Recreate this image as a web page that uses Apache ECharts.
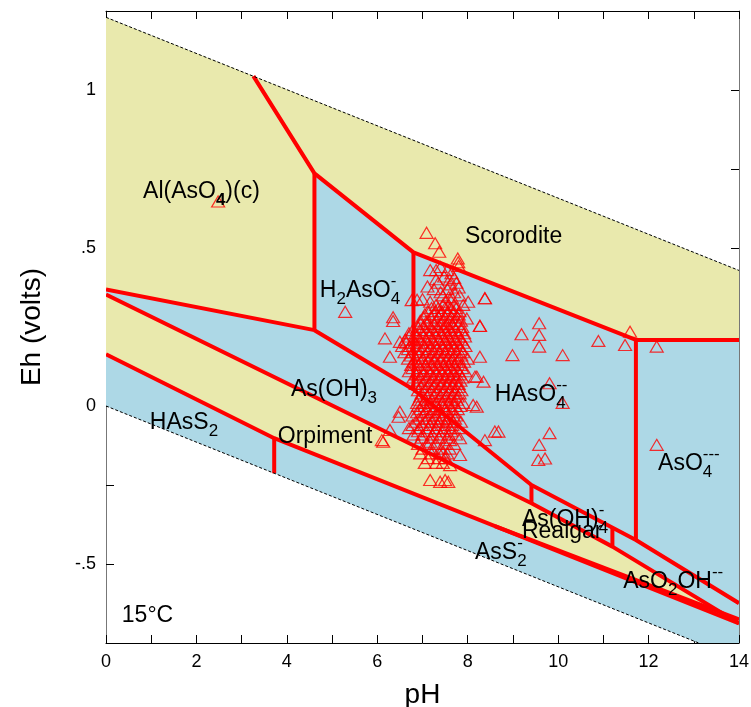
<!DOCTYPE html>
<html><head><meta charset="utf-8">
<script src="https://cdn.jsdelivr.net/npm/echarts@6/dist/echarts.min.js"></script>
<style>html,body{margin:0;padding:0;background:#fff}#c{width:751px;height:707px}</style>
</head><body><div id="c"></div>
<script>
// ---------- axis ticks ----------
const xLabelTicks = [0, 2, 4, 6, 8, 10, 12, 14];
const yLabelTicks = { '1': '1', '0.5': '.5', '0': '0', '-0.5': '-.5' };

// ---------- water stability limits (pH, Eh) ----------
const waterUpper = [[0, 1.23], [14, 0.429]];
const waterLower = [[0, 0.0], [13.11, -0.75]];

// ---------- stability fields (pH, Eh vertices) ----------
const fieldWater     = [[0, 1.23], [14, 0.429], [14, -0.75], [13.11, -0.75], [0, 0.0]];
const fieldAlAsO4    = [[0, 1.23], [3.26, 1.044], [4.61, 0.736], [4.61, 0.24], [0, 0.369]];
const fieldScorodite = [[3.26, 1.044], [14, 0.429], [14, 0.209], [11.72, 0.209], [6.80, 0.486], [4.61, 0.736]];
const fieldSulfides  = [[0, 0.353], [9.41, -0.308], [11.2, -0.445], [14, -0.688], [3.72, -0.102], [0, 0.164]];

// ---------- field boundaries (red) ----------
const boundaries = [
  [[3.26, 1.044], [4.61, 0.736], [6.80, 0.486], [11.72, 0.209], [14, 0.209]],
  [[4.61, 0.736], [4.61, 0.24]],
  [[0, 0.369], [4.61, 0.24], [6.80, 0.052], [9.41, -0.25], [11.72, -0.424], [14, -0.624]],
  [[6.80, 0.486], [6.80, 0.052]],
  [[11.72, 0.209], [11.72, -0.424]],
  [[0, 0.353], [9.41, -0.308], [11.2, -0.445], [14, -0.688]],
  [[9.41, -0.25], [9.41, -0.308]],
  [[11.2, -0.384], [11.2, -0.445]],
  [[0, 0.164], [3.72, -0.102], [14, -0.688]],
  [[3.72, -0.102], [3.72, -0.213]],
  [[8.6, -0.38], [14, -0.675]]
];

// ---------- water samples (pH, Eh) ----------
const samplesSpread = [
  [2.48,0.647],[5.29,0.298],
  [7.09,0.548],[7.28,0.515],[7.37,0.488],[7.78,0.467],[7.79,0.455],[7.80,0.443],[7.17,0.430],[7.30,0.430],
  [7.30,0.401],[7.11,0.378],[7.64,0.42],[7.70,0.405],[7.75,0.39],[7.62,0.385],[7.55,0.37],[7.70,0.36],
  [7.82,0.35],[6.76,0.335],[6.88,0.336],[7.00,0.338],[7.17,0.33],[8.01,0.330],[8.38,0.341],[7.45,0.35],
  [7.58,0.345],[7.66,0.34],[7.5,0.33],[7.9,0.32],[6.35,0.281],[6.35,0.269],[7.98,0.277],[8.27,0.254],
  [6.17,0.214],[6.50,0.203],[6.28,0.156],[8.27,0.156],[8.20,0.093],[8.35,0.077],[8.16,0.093],
  [8.12,0.003],[8.20,-0.002],[6.50,-0.018],[6.47,-0.034],[6.28,-0.076],[6.13,-0.113],[6.10,-0.108],
  [7.17,-0.113],[7.61,-0.108],[7.83,-0.102],[7.83,-0.155],[7.46,-0.145],[7.61,-0.187],[8.38,-0.108],
  [8.60,-0.081],[8.68,-0.081],[7.17,-0.234],[7.39,-0.240],[7.57,-0.240],[7.50,-0.234],
  [8.38,0.341],[8.27,0.253],[9.58,0.262],[9.19,0.227],[9.58,0.225],[9.58,0.188],[8.99,0.161],[10.10,0.161],
  [10.89,0.206],[11.59,0.235],[11.48,0.193],[12.18,0.188],[9.81,0.072],[10.10,0.010],[9.81,-0.086],
  [9.58,-0.123],[9.71,-0.166],[9.56,-0.171],[12.18,-0.123],[7.4,0.44],[7.55,0.43],[7.48,0.41],
  [7.35,0.39],[7.6,0.40],[7.25,0.37],[7.4,0.36],[7.8,0.375]
];
const samplesCore = [
  [7.2,0.31],[7.35,0.31],[7.5,0.31],[7.62,0.31],[7.75,0.31],
  [7.05,0.29],[7.25,0.29],[7.4,0.29],[7.55,0.29],[7.68,0.29],[7.8,0.29],
  [6.95,0.27],[7.1,0.27],[7.3,0.27],[7.45,0.27],[7.6,0.27],[7.72,0.27],[7.85,0.27],
  [6.9,0.25],[7.02,0.25],[7.18,0.25],[7.33,0.25],[7.48,0.25],[7.58,0.25],[7.7,0.25],[7.88,0.25],
  [6.7,0.23],[6.85,0.23],[7.0,0.23],[7.15,0.23],[7.28,0.23],[7.42,0.23],[7.53,0.23],[7.65,0.23],[7.78,0.23],[7.92,0.23],
  [6.62,0.21],[6.8,0.21],[6.95,0.21],[7.08,0.21],[7.22,0.21],[7.36,0.21],[7.5,0.21],[7.6,0.21],[7.73,0.21],[7.86,0.21],
  [6.55,0.19],[6.72,0.19],[6.9,0.19],[7.05,0.19],[7.18,0.19],[7.3,0.19],[7.44,0.19],[7.57,0.19],[7.68,0.19],[7.82,0.19],[7.95,0.19],
  [6.6,0.17],[6.78,0.17],[6.93,0.17],[7.1,0.17],[7.25,0.17],[7.38,0.17],[7.5,0.17],[7.63,0.17],[7.76,0.17],[7.9,0.17],
  [6.68,0.15],[6.85,0.15],[7.0,0.15],[7.14,0.15],[7.27,0.15],[7.41,0.15],[7.55,0.15],[7.66,0.15],[7.8,0.15],[8.0,0.15],
  [6.75,0.13],[6.9,0.13],[7.06,0.13],[7.2,0.13],[7.33,0.13],[7.46,0.13],[7.58,0.13],[7.7,0.13],[7.85,0.13],
  [6.7,0.11],[6.88,0.11],[7.02,0.11],[7.16,0.11],[7.3,0.11],[7.43,0.11],[7.56,0.11],[7.68,0.11],[7.8,0.11],[7.95,0.11],
  [6.8,0.09],[6.95,0.09],[7.1,0.09],[7.24,0.09],[7.37,0.09],[7.5,0.09],[7.62,0.09],[7.75,0.09],[7.88,0.09],
  [6.85,0.07],[7.0,0.07],[7.14,0.07],[7.28,0.07],[7.42,0.07],[7.55,0.07],[7.68,0.07],[7.8,0.07],
  [6.9,0.05],[7.05,0.05],[7.2,0.05],[7.33,0.05],[7.47,0.05],[7.6,0.05],[7.72,0.05],[7.86,0.05],
  [6.95,0.03],[7.1,0.03],[7.25,0.03],[7.38,0.03],[7.52,0.03],[7.65,0.03],[7.78,0.03],
  [6.88,0.01],[7.02,0.01],[7.16,0.01],[7.3,0.01],[7.44,0.01],[7.58,0.01],[7.7,0.01],[7.9,0.01],
  [6.95,-0.01],[7.1,-0.01],[7.24,-0.01],[7.36,-0.01],[7.5,-0.01],[7.64,-0.01],[7.78,-0.01],
  [6.78,-0.03],[7.0,-0.03],[7.15,-0.03],[7.3,-0.03],[7.45,-0.03],[7.6,-0.03],[7.75,-0.03],
  [6.85,-0.05],[7.05,-0.05],[7.2,-0.05],[7.36,-0.05],[7.52,-0.05],[7.68,-0.05],[7.85,-0.05],
  [6.7,-0.07],[6.92,-0.07],[7.12,-0.07],[7.3,-0.07],[7.48,-0.07],[7.62,-0.07],[7.8,-0.07],
  [6.8,-0.09],[7.0,-0.09],[7.22,-0.09],[7.4,-0.09],[7.58,-0.09],[7.74,-0.09],
  [6.9,-0.12],[7.1,-0.12],[7.3,-0.12],[7.5,-0.12],[7.7,-0.12],
  [6.95,-0.15],[7.2,-0.15],[7.38,-0.15],[7.55,-0.15],
  [7.05,-0.18],[7.3,-0.18],[7.45,-0.18]
];
const samplesCore2 = [
  [7.3,0.32],[7.45,0.32],[7.58,0.32],[7.7,0.32],
  [7.12,0.30],[7.28,0.30],[7.42,0.30],[7.56,0.30],[7.69,0.30],[7.82,0.30],
  [7.02,0.28],[7.18,0.28],[7.36,0.28],[7.5,0.28],[7.64,0.28],[7.78,0.28],
  [6.96,0.26],[7.1,0.26],[7.25,0.26],[7.4,0.26],[7.53,0.26],[7.66,0.26],[7.8,0.26],
  [6.78,0.24],[6.94,0.24],[7.08,0.24],[7.22,0.24],[7.36,0.24],[7.48,0.24],[7.62,0.24],[7.74,0.24],[7.86,0.24],
  [6.7,0.22],[6.88,0.22],[7.02,0.22],[7.15,0.22],[7.3,0.22],[7.43,0.22],[7.56,0.22],[7.68,0.22],[7.8,0.22],[7.94,0.22],
  [6.64,0.20],[6.82,0.20],[6.98,0.20],[7.12,0.20],[7.26,0.20],[7.4,0.20],[7.52,0.20],[7.65,0.20],[7.77,0.20],[7.9,0.20],
  [6.68,0.18],[6.86,0.18],[7.0,0.18],[7.16,0.18],[7.32,0.18],[7.45,0.18],[7.58,0.18],[7.7,0.18],[7.84,0.18],
  [6.74,0.16],[6.92,0.16],[7.06,0.16],[7.2,0.16],[7.34,0.16],[7.47,0.16],[7.6,0.16],[7.72,0.16],[7.86,0.16],
  [6.8,0.14],[6.96,0.14],[7.12,0.14],[7.26,0.14],[7.4,0.14],[7.52,0.14],[7.64,0.14],[7.76,0.14],[7.92,0.14],
  [6.78,0.12],[6.95,0.12],[7.1,0.12],[7.24,0.12],[7.37,0.12],[7.5,0.12],[7.62,0.12],[7.75,0.12],[7.88,0.12],
  [6.86,0.10],[7.02,0.10],[7.17,0.10],[7.31,0.10],[7.44,0.10],[7.57,0.10],[7.7,0.10],[7.83,0.10],
  [6.9,0.08],[7.06,0.08],[7.2,0.08],[7.34,0.08],[7.47,0.08],[7.6,0.08],[7.73,0.08],[7.84,0.08],
  [6.96,0.06],[7.1,0.06],[7.25,0.06],[7.4,0.06],[7.54,0.06],[7.66,0.06],[7.8,0.06],
  [6.98,0.04],[7.14,0.04],[7.3,0.04],[7.44,0.04],[7.57,0.04],[7.7,0.04],[7.82,0.04],
  [6.92,0.02],[7.06,0.02],[7.2,0.02],[7.35,0.02],[7.48,0.02],[7.62,0.02],[7.76,0.02],
  [6.9,0.00],[7.04,0.00],[7.18,0.00],[7.32,0.00],[7.46,0.00],[7.6,0.00],[7.72,0.00],[7.84,0.00],
  [6.88,-0.02],[7.06,-0.02],[7.22,-0.02],[7.38,-0.02],[7.52,-0.02],[7.68,-0.02],
  [6.92,-0.04],[7.1,-0.04],[7.26,-0.04],[7.42,-0.04],[7.56,-0.04],[7.72,-0.04],
  [6.78,-0.06],[6.98,-0.06],[7.16,-0.06],[7.34,-0.06],[7.5,-0.06],[7.66,-0.06],
  [6.9,-0.08],[7.1,-0.08],[7.28,-0.08],[7.46,-0.08],[7.64,-0.08],
  [6.98,-0.10],[7.18,-0.10],[7.36,-0.10],[7.54,-0.10],
  [7.0,-0.135],[7.2,-0.135],[7.4,-0.135],[7.6,-0.135],
  [7.12,-0.165],[7.35,-0.165],[7.5,-0.165]
];

// ---------- field names ----------
const fieldNames = [
  'Al(AsO_*{4})(c)', 'Scorodite', 'H_{2}AsO_^{4}{-}', 'As(OH)_{3}', 'HAsO_^{4}{--}', 'HAsS_{2}',
  'Orpiment', 'AsO_^{4}{---}', 'As(OH)_^{4}{-}', 'Realgar', 'AsS_^{2}{-}', 'AsO_{2}OH^{--}', '15°C'
];
// left edge / vertical middle of each name, in (pH, Eh)
const fieldNameAt = [
  [0.82, 0.677], [7.94, 0.535], [4.73, 0.364], [4.09, 0.051], [8.60, 0.035], [0.97, -0.054],
  [3.80, -0.098], [12.21, -0.184], [9.2, -0.361], [9.2, -0.399], [8.16, -0.465], [11.44, -0.557], [0.35, -0.665]
];

const YELLOW = '#e9e9ad', BLUE = '#add8e6', RED = '#ff0000';
const FONT = '"Liberation Sans", Arial, sans-serif';

const regions = [
  { pts: fieldWater, color: BLUE },
  { pts: fieldAlAsO4, color: YELLOW },
  { pts: fieldScorodite, color: YELLOW },
  { pts: fieldSulfides, color: YELLOW }
];

function parseName(s) {
  const out = []; let i = 0;
  while (i < s.length) {
    if (s.startsWith('_^{', i)) {
      const j = s.indexOf('}', i); const sub = s.slice(i + 3, j);
      const k = s.indexOf('}', j + 2); const sup = s.slice(j + 2, k);
      out.push({ k: 'sp', sub, sup }); i = k + 1;
    } else if (s.startsWith('_*{', i)) {
      const j = s.indexOf('}', i); out.push({ k: 's', t: s.slice(i + 3, j), b: true }); i = j + 1;
    } else if (s.startsWith('_{', i)) {
      const j = s.indexOf('}', i); out.push({ k: 's', t: s.slice(i + 2, j) }); i = j + 1;
    } else if (s.startsWith('^{', i)) {
      const j = s.indexOf('}', i); out.push({ k: 'p', t: s.slice(i + 2, j) }); i = j + 1;
    } else {
      let j = i; while (j < s.length && s[j] !== '_' && s[j] !== '^') j++;
      out.push({ k: 'n', t: s.slice(i, j) }); i = j;
    }
  }
  return out;
}
const measureCtx = document.createElement('canvas').getContext('2d');
function tw(t, font) { measureCtx.font = font; return measureCtx.measureText(t).width; }
const mainFont = '23px ' + FONT;
const subFont = '17px ' + FONT;
const subBoldFont = 'bold 17px ' + FONT;
const supFont = '17px ' + FONT;

function txt(t, x, y, font) {
  return { type: 'text', x: x, y: y, style: { text: t, font: font, fill: '#000', align: 'left', verticalAlign: 'middle' } };
}

const chart = echarts.init(document.getElementById('c'), null, { renderer: 'canvas' });

const axisCommon = {
  type: 'value', splitLine: { show: false },
  axisTick: { inside: true, length: 8, lineStyle: { color: '#000' } }
};

chart.setOption({
  animation: false,
  backgroundColor: '#fff',
  grid: { left: 106, right: 12, top: 11, bottom: 64, containLabel: false, outerBoundsMode: 'none' },
  xAxis: [
    Object.assign({}, axisCommon, {
      min: 0, max: 14, interval: 1, position: 'bottom',
      name: 'pH', nameLocation: 'middle', nameGap: 38,
      nameTextStyle: { fontFamily: FONT, fontSize: 28, color: '#000' },
      axisLine: { onZero: false, lineStyle: { color: '#000', width: 1 } },
      axisLabel: { margin: 10, fontFamily: FONT, fontSize: 18, color: '#000',
        formatter: v => xLabelTicks.indexOf(v) >= 0 ? String(v) : '' }
    }),
    Object.assign({}, axisCommon, {
      min: 0, max: 14, interval: 1, position: 'top',
      axisLine: { onZero: false, lineStyle: { color: '#000', width: 1 } },
      axisLabel: { show: false }
    })
  ],
  yAxis: [
    Object.assign({}, axisCommon, {
      min: -0.75, max: 1.25, interval: 0.25, position: 'left',
      name: 'Eh (volts)', nameLocation: 'middle', nameGap: 60, nameRotate: 90,
      nameTextStyle: { fontFamily: FONT, fontSize: 28, color: '#000' },
      axisLine: { show: true, onZero: false, lineStyle: { color: '#777', width: 1 } },
      axisLabel: { margin: 10, fontFamily: FONT, fontSize: 18, color: '#000',
        formatter: v => { const k = String(Math.round(v * 100) / 100); return yLabelTicks[k] !== undefined ? yLabelTicks[k] : ''; } }
    }),
    Object.assign({}, axisCommon, {
      min: -0.75, max: 1.25, interval: 0.25, position: 'right',
      axisLine: { show: true, onZero: false, lineStyle: { color: '#777', width: 1 } },
      axisLabel: { show: false }
    })
  ],
  series: [
    {
      type: 'custom', clip: true, silent: true, z: 1,
      data: regions.map((r, i) => [r.pts[0][0], r.pts[0][1], i]),
      renderItem: (params, api) => {
        const r = regions[api.value(2)];
        return { type: 'polygon', shape: { points: r.pts.map(p => api.coord(p)) }, style: { fill: r.color } };
      }
    },
    {
      type: 'custom', clip: true, silent: true, z: 3,
      data: boundaries.map((b, i) => [b[0][0], b[0][1], i]),
      renderItem: (params, api) => {
        const b = boundaries[api.value(2)];
        return { type: 'polyline', shape: { points: b.map(p => api.coord(p)) },
          style: { stroke: RED, lineWidth: 4, fill: null, lineJoin: 'round', lineCap: 'butt' } };
      }
    },
    { type: 'line', data: waterUpper, symbol: 'none', silent: true, z: 4,
      lineStyle: { color: '#000', width: 1, type: [3, 2] } },
    { type: 'line', data: waterLower, symbol: 'none', silent: true, z: 4,
      lineStyle: { color: '#000', width: 1, type: [3, 2] } },
    { type: 'scatter', data: samplesSpread.concat(samplesCore, samplesCore2), symbol: 'triangle', symbolSize: [13, 11], z: 5,
      large: false,
      itemStyle: { color: 'rgba(0,0,0,0)', borderColor: RED, borderWidth: 1.2 } },
    {
      type: 'custom', silent: true, z: 6,
      data: fieldNames.map((n, i) => [fieldNameAt[i][0], fieldNameAt[i][1], i]),
      renderItem: (params, api) => {
        const i = api.value(2);
        const p = api.coord([api.value(0), api.value(1)]);
        let x = p[0]; const y = p[1];
        const kids = [];
        parseName(fieldNames[i]).forEach(part => {
          if (part.k === 'n') { kids.push(txt(part.t, x, y, mainFont)); x += tw(part.t, mainFont); }
          else if (part.k === 's') { const f = part.b ? subBoldFont : subFont; kids.push(txt(part.t, x, y + 8, f)); x += tw(part.t, f); }
          else if (part.k === 'p') { kids.push(txt(part.t, x, y - 10, supFont)); x += tw(part.t, supFont); }
          else {
            kids.push(txt(part.sub, x, y + 8, subFont));
            kids.push(txt(part.sup, x, y - 10, supFont));
            x += Math.max(tw(part.sub, subFont), tw(part.sup, supFont));
          }
        });
        return { type: 'group', children: kids };
      }
    }
  ]
});
</script></body></html>
